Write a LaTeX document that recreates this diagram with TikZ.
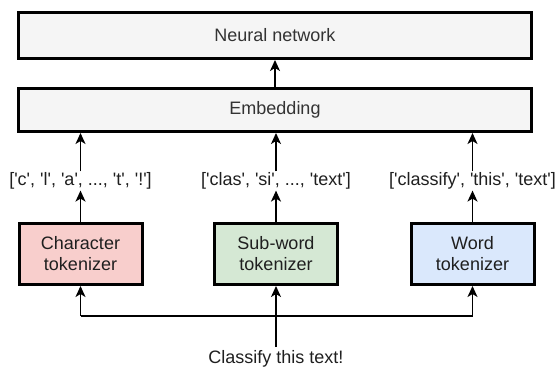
\documentclass[tikz,border=0pt]{standalone}
\usepackage{fontspec}
\newfontfamily\lsans{Liberation Sans}
\usetikzlibrary{arrows.meta}
\definecolor{graybox}{HTML}{F5F5F5}
\definecolor{txtgray}{HTML}{333333}
\definecolor{pinkbox}{HTML}{F8CECC}
\definecolor{greenbox}{HTML}{D5E8D4}
\definecolor{bluebox}{HTML}{DAE8FC}
\begin{document}
\begin{tikzpicture}[x=1pt,y=-1pt,
  bigbox/.style={draw=black,line width=3pt,fill=graybox,minimum width=513pt,minimum height=46pt,inner sep=0pt,text=txtgray,font=\lsans\fontsize{18}{21}\selectfont},
  tokbox/.style={draw=black,line width=3pt,minimum width=123pt,minimum height=61pt,inner sep=0pt,align=center,text=black!88,font=\lsans\fontsize{18}{21}\selectfont},
  lbl/.style={inner sep=1pt,text=black!88,font=\lsans\fontsize{18}{21}\selectfont},
  conn/.style={line width=1.5pt,-{Stealth[length=11pt,width=10pt,inset=3pt]}},
  plain/.style={line width=1.5pt}]
\useasboundingbox (0,0) rectangle (557,368);
\node[bigbox] (nn) at (275,35.5) {Neural network};
\node[bigbox,minimum height=43pt] (emb) at (275,110) {Embedding};
\node[tokbox,fill=pinkbox] (ct) at (80.5,254) {Character\\tokenizer};
\node[tokbox,fill=greenbox] (st) at (276,254) {Sub-word\\tokenizer};
\node[tokbox,fill=bluebox] (wt) at (472.5,254) {Word\\tokenizer};
\node[lbl] (cl) at (80.5,181) {['c', 'l', 'a', ..., 't', '!']};
\node[lbl] (sl) at (276,181) {['clas', 'si', ..., 'text']};
\node[lbl] (wl) at (472.5,181) {['classify', 'this', 'text']};
\node[lbl,anchor=south] (in) at (276,368) {Classify this text!};
\coordinate (jc) at (276,316);
\coordinate (jl) at (80.5,316);
\coordinate (jr) at (472.5,316);
\coordinate (src) at (276,347);
\draw[conn] (emb.north -| nn.south) -- (nn.south);
\draw[conn] (cl.north) -- (cl.north |- emb.south);
\draw[conn] (sl.north) -- (sl.north |- emb.south);
\draw[conn] (wl.north) -- (wl.north |- emb.south);
\draw[conn] (ct.north) -- (cl.south);
\draw[conn] (st.north) -- (sl.south);
\draw[conn] (wt.north) -- (wl.south);
\draw[conn] (src) -- (st.south);
\draw[plain] (jl) -- (jr);
\draw[conn] (jl) -- (ct.south);
\draw[conn] (jr) -- (wt.south);
\end{tikzpicture}
\end{document}
